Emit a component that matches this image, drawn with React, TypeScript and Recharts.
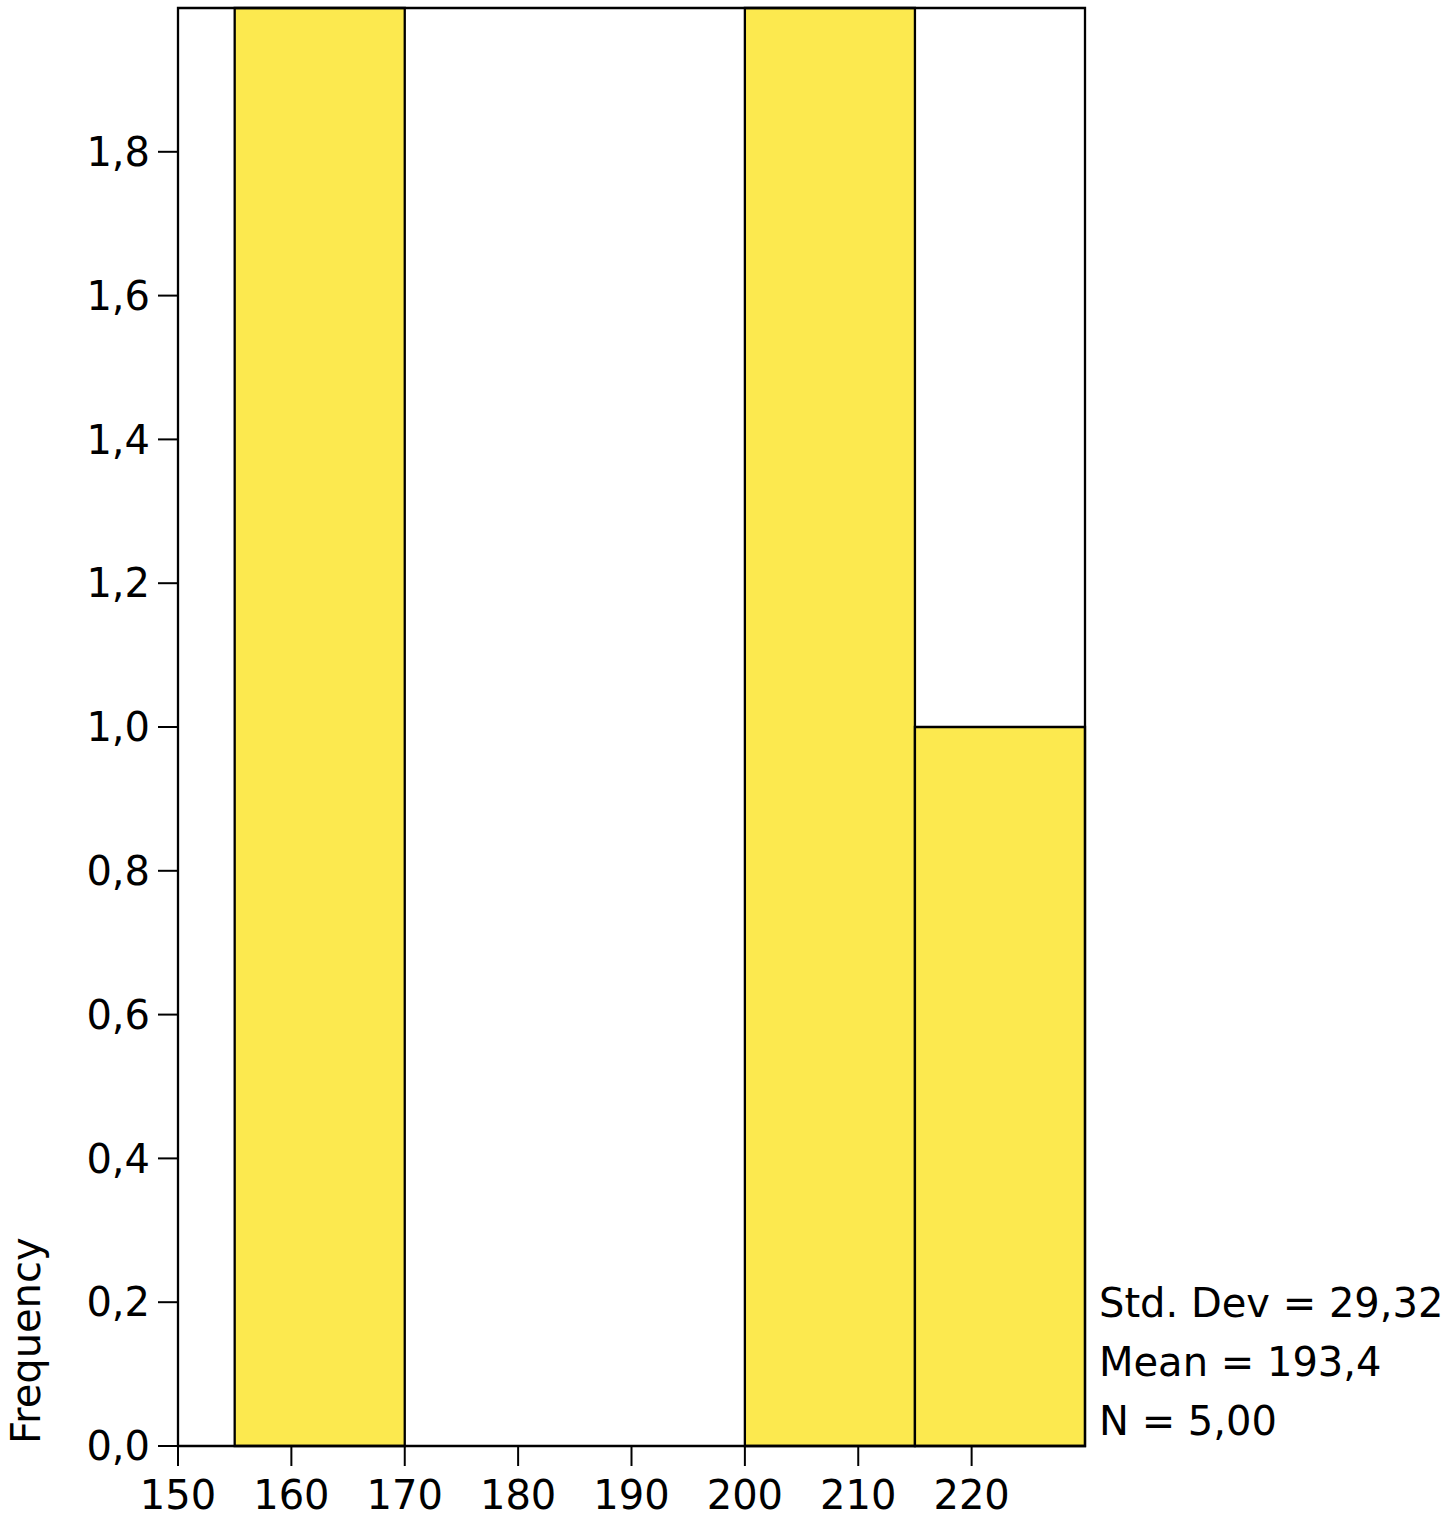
import React from 'react';
import { ComposedChart, XAxis, YAxis, ReferenceArea, Line } from 'recharts';

const binLow = [155, 170, 185, 200, 215];
const binHigh = [170, 185, 200, 215, 230];
const counts = [2, 0, 0, 2, 1];
const xTicks = [150, 160, 170, 180, 190, 200, 210, 220];
const yTicks = [0, 0.2, 0.4, 0.6, 0.8, 1.0, 1.2, 1.4, 1.6, 1.8];
const statLines = ['Std. Dev = 29,32', 'Mean = 193,4', 'N = 5,00'];
const yLabel = 'Frequency';

const data = binLow.map((lo, i) => ({ lo, hi: binHigh[i], count: counts[i] }));

const FONT = '"DejaVu Sans", sans-serif';
const FS = 40;
const FILL = '#FCE94F';

const fmtY = (v: number) => v.toFixed(1).replace('.', ',');

export default function App() {
  return (
    <div style={{ position: 'absolute', left: 0, top: 0, width: 1450, height: 1519, background: '#fff' }}>
      <ComposedChart
        width={1450}
        height={1519}
        data={data}
        margin={{ top: 8, right: 365, bottom: 0, left: 0 }}
        style={{ fontFamily: FONT }}
      >
        <XAxis
          type="number"
          dataKey="lo"
          domain={[150, 230]}
          ticks={xTicks}
          allowDataOverflow
          height={73}
          tickSize={20}
          tickMargin={15}
          axisLine={{ stroke: '#000', strokeWidth: 2 }}
          tickLine={{ stroke: '#000', strokeWidth: 2 }}
          tick={{ fill: '#000', fontSize: FS, fontFamily: FONT }}
          interval={0}
        />
        <YAxis
          type="number"
          domain={[0, 2]}
          ticks={yTicks}
          allowDataOverflow
          width={178}
          tickSize={20}
          tickMargin={8}
          tickFormatter={fmtY}
          axisLine={{ stroke: '#000', strokeWidth: 2 }}
          tickLine={{ stroke: '#000', strokeWidth: 2 }}
          tick={{ fill: '#000', fontSize: FS, fontFamily: FONT }}
          interval={0}
          label={{
            content: (props: any) => {
              const vb = props.viewBox || { x: 0, y: 8, width: 178, height: 1438 };
              const x = vb.x + 40;
              const y = vb.y + vb.height - 2;
              return (
                <text
                  transform={`translate(${x},${y}) rotate(-90)`}
                  textAnchor="start"
                  fontSize={FS}
                  fontFamily={FONT}
                  fill="#000"
                >
                  {yLabel}
                </text>
              );
            },
          }}
        />
        <Line
          dataKey="count"
          stroke="none"
          dot={false}
          activeDot={false}
          isAnimationActive={false}
          legendType="none"
        />
        {data
          .filter((d) => d.count > 0)
          .map((d) => (
            <ReferenceArea
              key={d.lo}
              x1={d.lo}
              x2={d.hi}
              y1={0}
              y2={d.count}
              fill={FILL}
              fillOpacity={1}
              stroke="#000"
              strokeWidth={2.3}
              ifOverflow="visible"
            />
          ))}
        <ReferenceArea
          x1={150}
          x2={230}
          y1={0}
          y2={2}
          fill="none"
          fillOpacity={0}
          stroke="#000"
          strokeWidth={2.3}
          ifOverflow="visible"
        />
      </ComposedChart>
      <svg
        width={1450}
        height={1519}
        style={{ position: 'absolute', left: 0, top: 0, pointerEvents: 'none' }}
      >
        {statLines.map((s, i) => (
          <text key={s} x={1099} y={1317 + i * 59} fontSize={FS} fontFamily={FONT} fill="#000">
            {s}
          </text>
        ))}
      </svg>
    </div>
  );
}
